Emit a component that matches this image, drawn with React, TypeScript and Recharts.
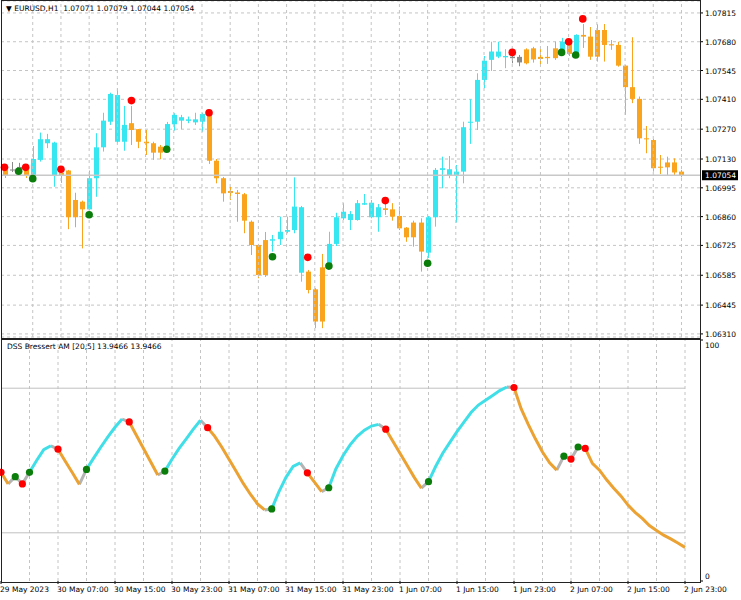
import React from 'react';
import { ComposedChart, Bar, Line, XAxis, YAxis, CartesianGrid, ReferenceLine } from 'recharts';

// EURUSD H1, 29 May 23:00 .. 2 Jun 23:00 (97 bars)
const openPrices = [
  1.07079, 1.07081, 1.07083, 1.07079, 1.07051, 1.07126, 1.07204, 1.07207, 1.07065, 1.07076,
  1.06938, 1.0693, 1.06894, 1.0704, 1.07185, 1.07305, 1.0743, 1.07211, 1.07298, 1.0727,
  1.07211, 1.07204, 1.07188, 1.07188, 1.07293, 1.0731, 1.07309, 1.07302, 1.07305, 1.07337,
  1.07122, 1.0704, 1.0698, 1.06973, 1.06965, 1.06836, 1.06727, 1.06586, 1.06747, 1.06754,
  1.06789, 1.06797, 1.06904, 1.06602, 1.06519, 1.06368, 1.06625, 1.06732, 1.06852, 1.06844,
  1.06844, 1.06916, 1.06857, 1.06857, 1.06899, 1.06894, 1.06863, 1.06808, 1.06763, 1.06832,
  1.06691, 1.06857, 1.07079, 1.07051, 1.07051, 1.07071, 1.073, 1.07305, 1.07501, 1.07595,
  1.0761, 1.07607, 1.0761, 1.07609, 1.07579, 1.07649, 1.07609, 1.07609, 1.07603, 1.07642,
  1.07673, 1.07626, 1.07712, 1.07704, 1.0761, 1.07735, 1.07668, 1.07665, 1.07568, 1.07467,
  1.07412, 1.07227, 1.07219, 1.07094, 1.07091, 1.07114, 1.07071,
];
const highPrices = [
  1.07102, 1.07116, 1.07112, 1.07088, 1.07191, 1.07254, 1.07248, 1.07211, 1.07074, 1.07079,
  1.06972, 1.06935, 1.07076, 1.07251, 1.07347, 1.07441, 1.07462, 1.07379, 1.07379, 1.07271,
  1.07266, 1.07211, 1.07196, 1.07304, 1.07345, 1.07337, 1.07329, 1.07347, 1.07347, 1.07341,
  1.0713, 1.07046, 1.07, 1.06985, 1.06971, 1.06842, 1.06732, 1.06788, 1.06774, 1.0686,
  1.0686, 1.07044, 1.0691, 1.0661, 1.06525, 1.06685, 1.06789, 1.06878, 1.06923, 1.06886,
  1.06938, 1.06966, 1.06938, 1.06919, 1.06919, 1.06923, 1.06907, 1.06811, 1.06841, 1.06852,
  1.06863, 1.07088, 1.07141, 1.07144, 1.07102, 1.07305, 1.0741, 1.07532, 1.07613, 1.0768,
  1.0768, 1.07645, 1.07618, 1.07618, 1.07649, 1.07656, 1.07645, 1.0766, 1.0768, 1.07698,
  1.07679, 1.07715, 1.07763, 1.07749, 1.07762, 1.07763, 1.07688, 1.0768, 1.07571, 1.07701,
  1.07423, 1.07285, 1.07224, 1.07149, 1.07141, 1.07133, 1.07079,
];
const lowPrices = [
  1.07041, 1.07069, 1.07074, 1.07041, 1.07041, 1.07118, 1.07181, 1.07, 1.07018, 1.06801,
  1.0681, 1.06711, 1.06891, 1.06953, 1.07165, 1.0729, 1.07204, 1.07169, 1.07196, 1.07181,
  1.07149, 1.07126, 1.07129, 1.07182, 1.07263, 1.0727, 1.07298, 1.0729, 1.07258, 1.07107,
  1.07016, 1.0693, 1.06938, 1.06836, 1.06782, 1.0668, 1.06571, 1.06577, 1.06696, 1.06727,
  1.06782, 1.06782, 1.06555, 1.065, 1.06337, 1.06337, 1.06619, 1.06722, 1.06844, 1.06797,
  1.06841, 1.06915, 1.06852, 1.06789, 1.06868, 1.06841, 1.06797, 1.06742, 1.06719, 1.06602,
  1.06666, 1.06813, 1.06993, 1.0704, 1.06832, 1.07016, 1.07201, 1.07266, 1.07462, 1.07543,
  1.07603, 1.07556, 1.07579, 1.07565, 1.07574, 1.07582, 1.07571, 1.07576, 1.07595, 1.07639,
  1.07613, 1.07618, 1.07651, 1.07595, 1.07587, 1.07587, 1.07642, 1.07563, 1.07337, 1.07392,
  1.07201, 1.07157, 1.07071, 1.0706, 1.07051, 1.07053, 1.07044,
];
const closePrices = [
  1.07055, 1.07076, 1.07093, 1.07055, 1.0713, 1.07223, 1.07223, 1.07055, 1.07055, 1.06857,
  1.06857, 1.06894, 1.0704, 1.07185, 1.0731, 1.07435, 1.07211, 1.0729, 1.07266, 1.07211,
  1.07204, 1.0716, 1.0716, 1.07294, 1.07337, 1.07326, 1.07316, 1.07316, 1.07341, 1.07122,
  1.0704, 1.06969, 1.06971, 1.06966, 1.06841, 1.06727, 1.06586, 1.0675, 1.06754, 1.06789,
  1.06797, 1.06907, 1.06597, 1.06516, 1.06368, 1.06622, 1.06732, 1.06857, 1.06883, 1.06872,
  1.06923, 1.06923, 1.06925, 1.06904, 1.06891, 1.0686, 1.06805, 1.06763, 1.06832, 1.06696,
  1.06857, 1.07079, 1.07087, 1.07082, 1.07071, 1.07279, 1.07305, 1.07501, 1.07591, 1.07634,
  1.07634, 1.07613, 1.07603, 1.07583, 1.07644, 1.07597, 1.07599, 1.07603, 1.07649, 1.0768,
  1.07623, 1.07712, 1.07704, 1.0761, 1.07735, 1.07665, 1.07663, 1.07568, 1.07467, 1.07412,
  1.07227, 1.07224, 1.07087, 1.07089, 1.07114, 1.07067, 1.07054,
];
// u = cyan, d = orange, n = gray (runs of bars, left to right)
const candleColorRuns = [
  'd', 'nn', 'd', 'uuuu', 'dddd', 'uuuuuu', 'ddddd', 'uuuuuu', 'ddddddddd', 'uuuuu', 'ddd',
  'uuuuuuuu', 'dddddd', 'uuuuuuuuuuuu', 'nn', 'ddddd', 'u', 'd', 'u', 'd', 'dddddddddddddd',
];

const redDotBars = [0, 3, 8, 18, 29, 43, 54, 72, 80, 82];
const redDotPrices = [1.07091, 1.07091, 1.07082, 1.07404, 1.07347, 1.06669, 1.06935, 1.0763, 1.0768, 1.07787];
const greenDotBars = [2, 4, 12, 23, 38, 46, 60, 79, 81];
const greenDotPrices = [1.07073, 1.07038, 1.06869, 1.07176, 1.06672, 1.06628, 1.06641, 1.0763, 1.07618];

// DSS Bressert [20,5]
const dssValues = [
  45.1, 40.3, 43.3, 40.3, 45.1, 50, 54.5, 56.1, 54.7, 49.8,
  45, 40.1, 46.3, 51, 55.5, 59.8, 63.8, 67.2, 66, 60.5,
  55, 49.5, 44, 45.6, 50.5, 55, 59, 63, 66.7, 63.6,
  60, 55.5, 50.5, 45.5, 40.5, 36, 32, 29.5, 29.9, 37,
  43, 47.5, 49, 44.9, 41, 37.1, 38.7, 46.5, 52, 56.5,
  60, 62.6, 64.3, 65, 63, 58, 53, 48, 43, 38.5,
  41.2, 47.5, 53, 57.5, 62, 66, 70, 73, 75, 77,
  79, 80.5, 80.3, 71.5, 65, 59, 53.5, 49, 46, 51.8,
  50.6, 55.6, 55, 48.8, 46, 42, 38.5, 35.3, 31.5, 28.5,
  26, 23, 21, 19, 17.5, 15.8, 13.9466,
];

const priceTicks = [1.07815, 1.0768, 1.07545, 1.0741, 1.0727, 1.0713, 1.06995, 1.0686, 1.06725, 1.06585, 1.06445, 1.0631];
const lastPrice = 1.07054;
const timeTickBars = [0, 8, 16, 24, 32, 40, 48, 56, 64, 72, 80, 88, 96];
const timeTickLabels = [
  '29 May 2023', '30 May 07:00', '30 May 15:00', '30 May 23:00', '31 May 07:00', '31 May 15:00',
  '31 May 23:00', '1 Jun 07:00', '1 Jun 15:00', '1 Jun 23:00', '2 Jun 07:00', '2 Jun 15:00', '2 Jun 23:00',
];

const FONT = '"DejaVu Sans", Verdana, sans-serif';
const FS = 7.5;
const CANDLE = { u: '#36e6f0', d: '#f9a41c', n: '#8a8a8a' };
const GRID = '#c4c4c4';
const candleColors = candleColorRuns.join('');
const gridBars = timeTickBars.flatMap((b) => (b === 0 ? [] : [b - 4, b]));

const mainRows = openPrices.map((o, i) => {
  const r = redDotBars.indexOf(i);
  const g = greenDotBars.indexOf(i);
  return {
    i,
    open: o,
    high: highPrices[i],
    low: lowPrices[i],
    close: closePrices[i],
    range: [lowPrices[i], highPrices[i]],
    color: candleColors[i] || 'd',
    red: r >= 0 ? redDotPrices[r] : null,
    green: g >= 0 ? greenDotPrices[g] : null,
  };
});

const dssRows = dssValues.map((v, i) => ({
  i,
  up: null as number | null,
  dn: null as number | null,
  nt: null as number | null,
  red: redDotBars.includes(i) ? v : null,
  green: greenDotBars.includes(i) ? v : null,
}));
for (let i = 1; i < dssValues.length; i++) {
  const isDot = redDotBars.includes(i) || greenDotBars.includes(i);
  const key = isDot ? 'nt' : dssValues[i] > dssValues[i - 1] ? 'up' : 'dn';
  dssRows[i][key] = dssValues[i];
  dssRows[i - 1][key] = dssValues[i - 1];
}

const Candle = (props: any) => {
  const { x, y, width, height, payload } = props;
  if (x == null || y == null || !payload) return null;
  const top = Math.min(y, y + height);
  const span = Math.abs(height);
  const { open, close, high, low, color } = payload;
  const k = high > low ? span / (high - low) : 0;
  const py = (p: number) => top + (high - p) * k;
  const bt = py(Math.max(open, close));
  const bb = py(Math.min(open, close));
  const cx = Math.round(x + width / 2) + 0.5;
  const fill = CANDLE[color as 'u' | 'd' | 'n'];
  return (
    <g>
      <line x1={cx} x2={cx} y1={top} y2={top + span} stroke={fill} strokeWidth={1} />
      <rect x={cx - 2.5} y={bt} width={5} height={Math.max(1, bb - bt)} fill={fill} />
    </g>
  );
};

const dotOf = (fill: string, r: number) => (props: any) => {
  const { cx, cy, value, index } = props;
  if (value == null || cy == null || isNaN(cy)) return <g key={`e${index}`} />;
  return <circle key={`c${index}`} cx={cx} cy={cy} r={r} fill={fill} />;
};

const PriceTick = (props: any) => {
  const { x, y, payload } = props;
  return (
    <text x={x} y={y} dy={3} fontSize={FS} fontFamily={FONT} fill="#000">
      {Number(payload.value).toFixed(5)}
    </text>
  );
};

const LevelTick = (props: any) => {
  const { x, y, payload } = props;
  const dy = payload.value === 100 ? 8 : -2;
  return (
    <text x={x} y={y} dy={dy} fontSize={FS} fontFamily={FONT} fill="#000">
      {payload.value}
    </text>
  );
};

const TimeTick = (props: any) => {
  const { x, y, payload } = props;
  const idx = timeTickBars.indexOf(payload.value);
  return (
    <text x={x - 1} y={y + 6} fontSize={FS} fontFamily={FONT} fill="#000">
      {idx >= 0 ? timeTickLabels[idx] : ''}
    </text>
  );
};

const PriceTag = (props: any) => {
  const vb = props.viewBox || {};
  const right = (vb.x ?? 0) + (vb.width ?? 0);
  const y = vb.y ?? 0;
  return (
    <g>
      <rect x={right + 2} y={y - 5} width={36} height={10} fill="#000" />
      <text x={right + 5} y={y + 3} fontSize={FS} fontFamily={FONT} fill="#fff">
        {lastPrice.toFixed(5)}
      </text>
    </g>
  );
};

export default function App() {
  return (
    <div style={{ position: 'relative', width: 741, height: 600, background: '#fff', overflow: 'hidden' }}>
      <style>{'body{margin:0}'}</style>
      <div style={{ position: 'absolute', left: 0, top: 0 }}>
        <ComposedChart width={741} height={339} data={mainRows} margin={{ top: 1, right: 1, bottom: 2, left: 1 }}>
          <CartesianGrid vertical={false} stroke={GRID} strokeDasharray="3 3" />
          {gridBars.map((b) => (
            <ReferenceLine key={`v${b}`} x={b} stroke={GRID} strokeDasharray="3 3" />
          ))}
          <ReferenceLine y={lastPrice} stroke="#c8c8c8" strokeWidth={1.5} label={<PriceTag />} />
          <XAxis dataKey="i" type="category" hide padding={{ left: 0, right: 15 }} />
          <YAxis
            orientation="right"
            type="number"
            width={40}
            domain={[1.062955, 1.07871]}
            allowDataOverflow
            ticks={priceTicks}
            interval={0}
            tickSize={3}
            tick={<PriceTick />}
            tickLine={{ stroke: '#000' }}
            axisLine={false}
          />
          <Bar dataKey="range" barSize={5} shape={Candle} isAnimationActive={false} />
          <Line dataKey="red" stroke="none" dot={dotOf('#ff0000', 3.8)} activeDot={false} isAnimationActive={false} />
          <Line dataKey="green" stroke="none" dot={dotOf('#0a7d0a', 3.8)} activeDot={false} isAnimationActive={false} />
        </ComposedChart>
      </div>
      <div style={{ position: 'absolute', left: 0, top: 339 }}>
        <ComposedChart width={741} height={261} data={dssRows} margin={{ top: 1, right: 1, bottom: 0, left: 1 }}>
          {gridBars.map((b) => (
            <ReferenceLine key={`v${b}`} x={b} stroke={GRID} strokeDasharray="3 3" />
          ))}
          <ReferenceLine segment={[{ x: 0, y: 80 }, { x: 96, y: 80 }]} stroke="#c0c0c0" />
          <ReferenceLine segment={[{ x: 0, y: 20 }, { x: 96, y: 20 }]} stroke="#c0c0c0" />
          <XAxis
            dataKey="i"
            type="category"
            padding={{ left: 0, right: 15 }}
            ticks={timeTickBars}
            interval={0}
            height={19}
            tickSize={3}
            tick={<TimeTick />}
            tickLine={{ stroke: '#000' }}
            axisLine={false}
          />
          <YAxis
            orientation="right"
            type="number"
            width={40}
            domain={[0, 100]}
            ticks={[0, 100]}
            interval={0}
            tickSize={3}
            tick={<LevelTick />}
            tickLine={{ stroke: '#000' }}
            axisLine={false}
          />
          <Line dataKey="nt" stroke="#b4b4b4" strokeWidth={3} dot={false} activeDot={false} isAnimationActive={false} />
          <Line dataKey="dn" stroke="#eba232" strokeWidth={3} dot={false} activeDot={false} isAnimationActive={false} />
          <Line dataKey="up" stroke="#40dfe8" strokeWidth={3} dot={false} activeDot={false} isAnimationActive={false} />
          <Line dataKey="red" stroke="none" dot={dotOf('#ff0000', 3.6)} activeDot={false} isAnimationActive={false} />
          <Line dataKey="green" stroke="none" dot={dotOf('#0a7d0a', 3.6)} activeDot={false} isAnimationActive={false} />
        </ComposedChart>
      </div>
      <div style={{ position: 'absolute', left: 1, top: 0, width: 700, height: 339, boxSizing: 'border-box', border: '1px solid #222', pointerEvents: 'none' }} />
      <div style={{ position: 'absolute', left: 1, top: 339, width: 700, height: 244, boxSizing: 'border-box', border: '1px solid #222', pointerEvents: 'none' }} />
      <div style={{ position: 'absolute', left: 6, top: 4, font: `${FS}px ${FONT}`, lineHeight: '10px', whiteSpace: 'pre', color: '#000' }}>
        {'▼ EURUSD,H1  1.07071 1.07079 1.07044 1.07054'}
      </div>
      <div style={{ position: 'absolute', left: 7, top: 342, font: `${FS}px ${FONT}`, lineHeight: '10px', whiteSpace: 'pre', color: '#000' }}>
        {'DSS Bressert AM [20,5] 13.9466 13.9466'}
      </div>
    </div>
  );
}
